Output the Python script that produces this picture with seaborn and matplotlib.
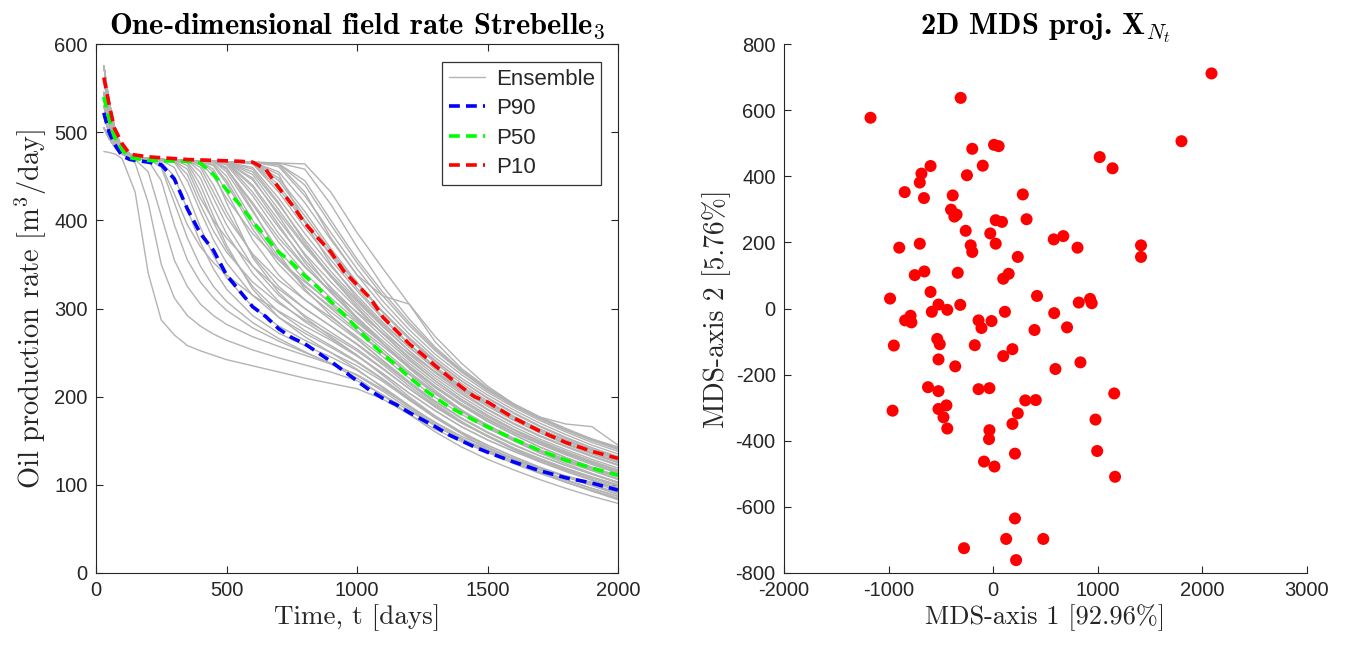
import numpy as np
import pandas as pd
import matplotlib
matplotlib.use("Agg")
import matplotlib.pyplot as plt
from matplotlib.lines import Line2D
import seaborn as sns

# ---------------- data ----------------
ens_time = [30, 50, 75, 100, 150, 200, 250, 300, 350, 400, 450, 500, 600, 700, 800,
            900, 1000, 1100, 1200, 1300, 1400, 1500, 1600, 1700, 1800, 1900, 2000]

ensemble = [
    [478,477,475,470, 432,340,287,270,258,252,247,242, 235,228,221,215,209,197,180,163,149,137,127,118,110,103,96],
    [505,493,482,475, 465,420,350,312,292,280,271,264, 253,244,236,228,218,202,184,167,152,140,129,119,110,102,94],
    [530,508,488,477, 469,455,405,355,325,305,292,282, 268,257,247,237,225,208,189,171,155,142,130,119,109,100,91],
    [560,525,495,480, 471,468,445,395,355,330,312,298, 278,263,250,238,224,206,186,167,151,138,126,115,105,96,87],
    [545,515,492,478, 471,469,462,430,395,370,352,338, 315,297,280,264,246,226,204,184,166,151,138,127,117,108,100],
    [518,500,485,476, 470,469,466,450,412,375,345,322, 292,272,258,245,230,211,190,170,153,139,126,114,103,93,84],
    [575,535,500,482, 472,470,468,460,430,392,360,335, 302,280,264,250,235,217,196,176,159,145,132,120,109,99,89],
    [530,508,488,477, 471,470,469,466,445,410,378,352, 315,290,272,256,239,219,197,176,158,140,126,114,103,93,83],
    [560,525,495,480, 471,470,469,467,458,425,400,380, 348,322,300,280,259,236,212,190,171,155,141,129,118,108,99],
    [505,493,482,475, 471,470,469,468,462,432,398,368, 325,296,275,258,240,220,198,178,160,145,132,120,110,100,91],
    [545,515,492,478, 471,470,469,468,466,448,415,385, 340,308,285,266,247,226,204,184,166,151,138,126,115,105,96],
    [518,500,485,476, 471,470,469,468,468,455,425,395, 348,315,292,273,254,232,209,188,170,155,141,129,118,108,99],
    [575,535,500,482, 471,470,469,468,468,463,440,410, 360,325,300,280,260,238,215,194,175,159,145,133,122,112,103],
    [530,508,488,477, 471,470,469,468,468,465,450,425, 385,355,330,307,284,260,235,211,190,172,157,143,131,120,110],
    [560,525,495,480, 471,470,469,468,468,466,455,420, 358,318,290,268,247,224,200,178,159,143,129,117,106,96,87],
    [545,515,492,478, 471,470,469,468,468,467,458,432, 378,338,310,287,265,241,217,195,176,160,146,133,122,112,102],
    [505,493,482,475, 471,470,469,468,468,467,462,442, 390,350,320,296,273,249,225,203,183,166,151,138,127,117,107],
    [518,500,485,476, 471,470,469,468,468,467,465,450, 400,358,326,300,275,250,226,204,184,167,152,139,128,118,109],
    [575,535,500,482, 471,470,469,468,468,467,467,455, 410,366,332,305,279,253,228,205,185,168,153,140,129,119,110],
    [530,508,488,477, 471,470,469,468,468,467,467,458, 418,375,340,312,286,260,235,212,192,175,160,147,135,124,114],
    [545,515,492,478, 471,470,469,468,468,467,467,460, 412,362,322,292,266,240,215,192,172,155,140,127,116,106,97],
    [560,525,495,480, 471,470,469,468,468,467,467,463, 428,385,348,318,290,263,238,215,195,177,162,148,136,125,115],
    [518,500,485,476, 471,470,469,468,468,467,467,465, 432,392,355,324,295,267,241,218,197,179,163,149,137,126,116],
    [505,493,482,475, 471,470,469,468,468,467,467,466, 440,400,362,330,300,271,245,221,200,182,166,152,140,129,119],
    [575,535,500,482, 471,470,469,468,468,467,467,466, 446,408,370,336,305,275,248,224,203,185,169,155,143,132,122],
    [530,508,488,477, 471,470,469,468,468,467,467,466, 448,405,360,322,290,260,232,207,185,166,150,136,124,113,103],
    [545,515,492,478, 471,470,469,468,468,467,467,466, 455,418,378,342,310,280,252,227,205,186,170,156,144,133,123],
    [560,525,495,480, 471,470,469,468,468,467,467,466, 460,425,385,348,315,284,256,231,209,190,174,159,147,136,126],
    [518,500,485,476, 471,470,469,468,468,467,467,466, 464,432,392,355,320,288,259,233,211,192,176,161,148,137,127],
    [505,493,482,475, 471,470,469,468,468,467,467,466, 466,440,400,360,323,290,260,234,212,193,177,163,150,139,129],
    [575,535,500,482, 471,470,469,468,468,467,467,466, 466,448,410,368,330,296,266,240,218,199,182,167,154,142,132],
    [530,508,488,477, 471,470,469,468,468,467,467,466, 466,455,420,378,338,302,271,244,221,202,185,170,157,145,135],
    [545,515,492,478, 471,470,469,468,468,467,467,466, 466,461,428,386,345,308,276,248,225,205,188,173,160,148,138],
    [560,525,495,480, 471,470,469,468,468,467,467,466, 466,463,432,380,338,314,305,262,232,210,192,177,164,152,142],
    [518,500,485,476, 471,470,469,468,468,467,467,466, 466,464,445,400,356,318,284,254,229,208,190,175,162,151,141],
    [505,493,482,475, 471,470,469,468,468,467,467,466, 466,465,464,432,386,345,305,268,238,212,192,177,169,166,145],
    [575,535,500,482, 471,470,469,467,452,418,388,364, 330,306,287,270,252,231,209,189,171,156,142,130,119,109,100],
    [545,515,492,478, 471,470,469,468,468,460,432,404, 362,332,310,290,268,245,221,199,180,164,150,137,126,116,106],
    [530,508,488,477, 471,470,469,468,468,467,463,445, 395,355,325,302,280,257,233,211,191,174,159,146,134,123,113],
    [560,525,495,480, 471,470,469,468,468,467,467,465, 438,395,352,318,288,260,234,210,190,172,157,143,131,120,110],
    [518,500,485,476, 471,470,469,468,468,467,467,466, 458,420,375,336,302,271,243,218,197,179,163,150,138,127,117],
    [575,535,500,482, 471,470,469,468,468,467,467,466, 466,445,405,365,328,295,265,238,215,195,178,163,150,139,129],
    [505,493,482,475, 471,470,469,468,465,440,405,372, 322,290,268,250,231,210,188,168,151,137,124,113,103,94,85],
    [545,515,492,478, 471,470,469,468,468,467,467,459, 420,380,347,320,296,272,249,228,209,192,177,163,151,140,130],
    [530,508,488,477, 471,470,460,420,380,348,325,308, 284,266,251,237,221,201,180,160,143,129,117,106,96,87,79],
    [545,515,492,478, 471,470,469,468,468,467,467,466, 466,464,440,395,352,314,281,252,228,207,190,175,162,150,140],
    [530,508,488,477, 471,470,469,468,468,467,467,466, 466,465,458,418,370,325,288,256,230,209,191,176,163,152,143],
    [575,535,500,482, 471,470,469,468,468,467,467,466, 466,452,398,350,312,282,256,232,211,193,177,163,151,140,131],
    [505,493,482,475, 471,470,469,468,468,467,467,466, 452,412,372,338,308,279,252,228,207,189,173,159,146,135,125],
    [518,500,485,476, 471,470,469,468,468,467,467,466, 465,436,398,362,328,296,267,241,218,198,181,166,153,142,132],
]

p_time = [30, 50, 70, 100, 130, 200, 250, 300, 350, 400, 450, 500, 550, 600, 650, 700,
          750, 800, 850, 900, 950, 1000, 1050, 1100, 1150, 1200, 1250, 1300, 1350, 1400,
          1450, 1500, 1600, 1700, 1800, 1900, 2000]
p90 = [522, 500, 487, 473, 469, 466, 463, 447, 413, 385, 366, 338, 320, 302, 291, 277,
       267, 260, 250, 240, 229, 218, 207, 198, 191, 182, 174, 166, 157, 150,
       143, 137, 126, 116, 108, 102, 94]
p50 = [540, 515, 495, 480, 471, 468, 467.5, 467, 467, 465, 452, 435, 418, 399, 381, 364,
       352, 337, 324, 308, 293, 278, 262, 248, 236, 222, 210, 199, 189, 181,
       173, 166, 152, 139, 128, 119, 111]
p10 = [562, 532, 505, 487, 475, 472, 471, 470, 469, 468.5, 468, 467.5, 467, 466, 458, 437,
       418, 397, 380, 364, 342, 327, 312, 290, 275, 260, 248, 235, 223, 211,
       200, 194, 176, 161, 148, 138, 130]

mds_x = [-1173, -311, 2087, 1800, 8, 52, -200, 1018, 1141, -599, -100, -686, -251, -702,
         -846, -387, 283, -662, -403, -371, -350, 319, 24, 84, -263, -28, 579, 670, 806,
         -898, -702, -215, -200, 24, 235, 1413, 1413, -658, -750, -339, 96, 148, -599,
         -986, -523, -315, -587, -439, 419, 818, 926, 942, 112, 583, -842, -790, -782,
         -140, -16, -112, 395, 706, -950, -535, -511, -176, 184, 96, -523, -363, 595,
         834, -623, -523, -140, -36, 1157, -962, -523, -447, -475, -439, 307, 407, 235,
         184, -36, -40, 978, 994, 208, -88, 12, 1165, 208, 124, 479, -279, 219]
mds_y = [577, 637, 711, 506, 495, 491, 483, 458, 424, 431, 432, 408, 403, 381,
         352, 342, 345, 334, 299, 278, 284, 270, 267, 262, 235, 227, 209, 219, 184,
         184, 196, 191, 171, 196, 156, 191, 156, 112, 101, 108, 90, 105, 50,
         30, 12, 11, -10, -4, 38, 18, 29, 16, -10, -14, -36, -22, -42,
         -36, -38, -59, -65, -57, -112, -92, -108, -111, -123, -144, -154, -175, -183,
         -163, -238, -250, -244, -241, -257, -309, -304, -293, -329, -363, -278, -277, -317,
         -349, -368, -395, -336, -431, -439, -463, -478, -509, -635, -697, -697, -725, -761]

# ---------------- style ----------------
sns.set_theme(style="white")
plt.rcParams["font.family"] = ["Liberation Sans", "DejaVu Sans"]
plt.rcParams["mathtext.fontset"] = "cm"
plt.rcParams["axes.unicode_minus"] = False

DARK = "#262626"
GRAY = "#b3b3b3"
TICK_FS = 14.5
TITLE_FS = 22

fig = plt.figure(figsize=(13.45, 6.48), dpi=100)
W, H = 1345.0, 648.0
ax1 = fig.add_axes([96 / W, 1 - 573 / H, (618 - 96) / W, (573 - 44) / H])
ax2 = fig.add_axes([784 / W, 1 - 573 / H, (1307 - 784) / W, (573 - 44) / H])

# ---------------- left panel ----------------
rows = []
for m, vals in enumerate(ensemble):
    for t, v in zip(ens_time, vals):
        rows.append((m, t, v))
df = pd.DataFrame(rows, columns=["member", "time", "rate"])
sns.lineplot(data=df, x="time", y="rate", units="member", estimator=None,
             color=GRAY, lw=1.0, ax=ax1, legend=False)

dash = (3.0, 1.7)
for vals, col in [(p90, "#0000ff"), (p50, "#00ff00"), (p10, "#ff0000")]:
    sns.lineplot(x=p_time, y=vals, color=col, lw=2.6, ax=ax1, legend=False,
                 dashes=False).lines[-1].set_dashes(dash)

ax1.set_xlim(0, 2000)
ax1.set_ylim(0, 600)
ax1.set_xticks([0, 500, 1000, 1500, 2000])
ax1.set_yticks([0, 100, 200, 300, 400, 500, 600])
ax1.tick_params(direction="in", length=5, width=0.8, colors=DARK, labelsize=TICK_FS,
                top=True, right=True, bottom=True, left=True, pad=6)
for s in ax1.spines.values():
    s.set_visible(True)
    s.set_color(DARK)
    s.set_linewidth(0.8)
ax1.set_xlabel("Time, t [days]", fontfamily="cmr10", fontsize=19.5, color=DARK, labelpad=3)
ax1.set_ylabel("Oil production rate [m$^3$/day]", fontfamily="cmr10", fontsize=20.5,
               color=DARK, labelpad=4)
ax1.set_title("One-dimensional field rate Strebelle$_3$", fontfamily="cmb10",
              fontsize=TITLE_FS, color="black", pad=7)

handles = [Line2D([], [], color=GRAY, lw=1.0),
           Line2D([], [], color="#0000ff", lw=2.6, dashes=dash),
           Line2D([], [], color="#00ff00", lw=2.6, dashes=dash),
           Line2D([], [], color="#ff0000", lw=2.6, dashes=dash)]
leg = ax1.legend(handles, ["Ensemble", "P90", "P50", "P10"], loc="upper right",
                 bbox_to_anchor=(0.968, 0.966), fontsize=16, frameon=True, fancybox=False,
                 handlelength=1.6, handletextpad=0.5, borderpad=0.3, labelspacing=0.38,
                 borderaxespad=0)
leg.get_frame().set_edgecolor("black")
leg.get_frame().set_linewidth(0.9)

# ---------------- right panel ----------------
sns.scatterplot(x=mds_x, y=mds_y, color="#ff0000", s=75, edgecolor="none", ax=ax2,
                legend=False)
ax2.set_xlim(-2000, 3000)
ax2.set_ylim(-800, 800)
ax2.set_xticks([-2000, -1000, 0, 1000, 2000, 3000])
ax2.set_yticks(list(range(-800, 801, 200)))
ax2.tick_params(direction="in", length=5, width=0.8, colors=DARK, labelsize=TICK_FS,
                bottom=True, left=True, pad=6)
for side in ["top", "right"]:
    ax2.spines[side].set_visible(False)
for side in ["left", "bottom"]:
    ax2.spines[side].set_visible(True)
    ax2.spines[side].set_color(DARK)
    ax2.spines[side].set_linewidth(0.8)
ax2.set_xlabel("MDS-axis 1 [92.96%]", fontfamily="cmr10", fontsize=19, color=DARK,
               labelpad=3)
ax2.set_ylabel("MDS-axis 2 [5.76%]", fontfamily="cmr10", fontsize=20, color=DARK,
               labelpad=3)
ax2.set_title(r"2D MDS proj. $\mathbf{X}_{N_t}$", fontfamily="cmb10", fontsize=TITLE_FS,
              color="black", pad=7)

fig.savefig("out.png", dpi=100, facecolor="white")
